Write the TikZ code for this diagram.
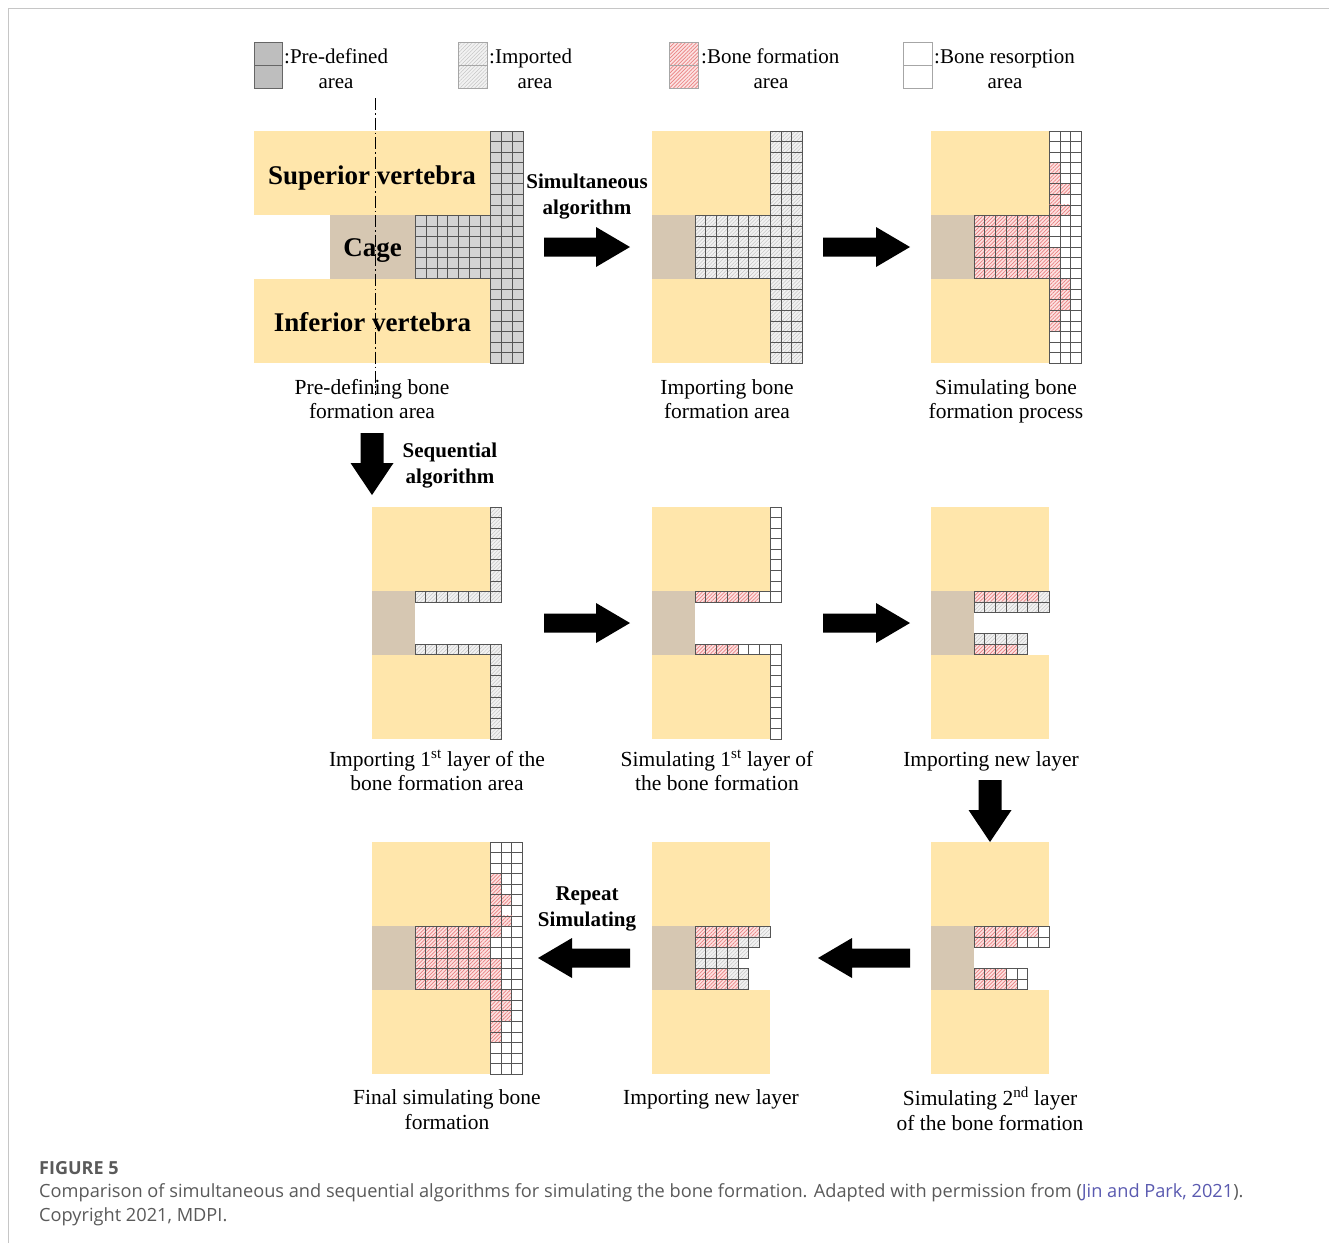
\documentclass[tikz,border=0pt]{standalone}
\usepackage{fontspec}
\setmainfont{Liberation Serif}
\newfontfamily\capfont{Open Sans}
\usetikzlibrary{patterns.meta}
\definecolor{vert}{HTML}{FFE6AB}
\definecolor{cagec}{HTML}{D6C7B2}
\definecolor{pdgray}{HTML}{D4D4D4}
\definecolor{pdleg}{HTML}{BEBEBE}
\definecolor{imbase}{HTML}{F2F2F2}
\definecolor{imhatch}{HTML}{C6C6C6}
\definecolor{bfbase}{HTML}{FCE2E2}
\definecolor{bfhatch}{HTML}{EA8080}
\definecolor{gridc}{HTML}{555555}
\definecolor{capgray}{HTML}{5A5A5A}
\definecolor{linkc}{HTML}{5A5AB0}
\tikzset{
  pdcell/.style={fill=pdgray, draw=gridc, line width=0.7pt},
  imcell/.style={preaction={fill=imbase}, pattern={Lines[angle=45,distance=2.6pt,line width=0.5pt]}, pattern color=imhatch, draw=gridc, line width=0.7pt},
  bfcell/.style={preaction={fill=bfbase}, pattern={Lines[angle=45,distance=2.6pt,line width=0.7pt]}, pattern color=bfhatch, draw=gridc, line width=0.7pt},
  brcell/.style={fill=white, draw=gridc, line width=0.7pt},
  lbl/.style={anchor=base, inner sep=0pt, font=\fontsize{21.5}{25}\selectfont},
  blbl/.style={anchor=base, inner sep=0pt, font=\fontsize{21}{25}\selectfont\bfseries},
  biglbl/.style={anchor=base, inner sep=0pt, font=\fontsize{27}{30}\selectfont\bfseries},
  leglbl/.style={inner sep=0pt, font=\fontsize{21}{25}\selectfont},
  pics/barrow/.style n args={4}{code={
    \fill[black] (0,-#3) -- ({#1-#2},-#3) -- ({#1-#2},-#4) -- (#1,0) -- ({#1-#2},#4) -- ({#1-#2},#3) -- (0,#3) -- cycle;}}
}
\newcommand\Cl[3]{\path[#1] (#2,#3) rectangle +(1,1);}
\newcommand\panelbase{%
  \fill[vert] (0,0) rectangle (11,8);
  \fill[vert] (0,14) rectangle (11,22);
  \fill[cagec] (0,8) rectangle (4,14);}
\newcommand\sidecols[1]{%
  \foreach \r in {0,...,21}{\foreach \c in {11,12,13}{\Cl{#1}{\c}{\r}}}}
\newcommand\cagegrid[1]{%
  \foreach \r in {8,...,13}{\foreach \c in {4,...,10}{\Cl{#1}{\c}{\r}}}}
\newcommand\redside{%
  \foreach \r in {3,4,5,6,7,8,11,12,13,14,15,16,17,18}{\Cl{bfcell}{11}{\r}}
  \foreach \r in {5,7,14,15,16}{\Cl{bfcell}{12}{\r}}}
\begin{document}
\begin{tikzpicture}[x=1pt,y=-1pt]
\useasboundingbox (0,0) rectangle (1329,1243);
\fill[white] (0,0) rectangle (1329,1243);
\draw[gray!45, line width=0.8pt] (8,1243) -- (8,8) -- (1329,8);

% ---------- legend ----------
\path[fill=pdleg, draw=gray!80!black, line width=0.8pt] (254,42) rectangle (282,65) (254,65) rectangle (282,88);
\node[leglbl, anchor=base west] (lg1a) at (284,63) {:Pre-defined};
\node[leglbl, anchor=base] (lg1b) at (336,88) {area};
\path[imcell, draw=gray!70] (458,42) rectangle (487,65) (458,65) rectangle (487,88);
\node[leglbl, anchor=base west] (lg2a) at (489,63) {:Imported};
\node[leglbl, anchor=base] (lg2b) at (535,88) {area};
\path[bfcell, draw=gray!70] (669,42) rectangle (698,65) (669,65) rectangle (698,88);
\node[leglbl, anchor=base west] (lg3a) at (701,63) {:Bone formation};
\node[leglbl, anchor=base] (lg3b) at (771,88) {area};
\path[brcell, draw=gray!70] (903,42) rectangle (932,65) (903,65) rectangle (932,88);
\node[leglbl, anchor=base west] (lg4a) at (934,63) {:Bone resorption};
\node[leglbl, anchor=base] (lg4b) at (1005,88) {area};

% ---------- panel 1: pre-defining ----------
\begin{scope}[xshift=372.5pt, yshift=-131pt, x=10.75pt, y=-10.55pt]
  \fill[vert] (-11,0) rectangle (11,8);
  \fill[vert] (-11,14) rectangle (11,22);
  \fill[cagec] (-4,8) rectangle (4,14);
  \cagegrid{pdcell}
  \sidecols{pdcell}
\end{scope}
\node[biglbl] (sup) at (372,184) {Superior vertebra};
\node[biglbl] (cage) at (372.5,256) {Cage};
\node[biglbl] (inf) at (372.5,331) {Inferior vertebra};
\draw[line width=1pt, dash pattern=on 12pt off 3pt on 1.5pt off 3pt] (375,98) -- (375,395);

% ---------- panel 2: importing ----------
\begin{scope}[xshift=652pt, yshift=-131pt, x=10.75pt, y=-10.55pt]
  \panelbase
  \cagegrid{imcell}
  \sidecols{imcell}
\end{scope}

% ---------- panel 3: simulating ----------
\begin{scope}[xshift=931pt, yshift=-131pt, x=10.75pt, y=-10.55pt]
  \panelbase
  \cagegrid{bfcell}
  \sidecols{brcell}
  \redside
\end{scope}

% ---------- panel 4: importing 1st layer ----------
\begin{scope}[xshift=372pt, yshift=-507pt, x=10.75pt, y=-10.55pt]
  \panelbase
  \foreach \r in {0,...,8,13,14,...,21}{\Cl{imcell}{11}{\r}}
  \foreach \c in {4,...,10}{\Cl{imcell}{\c}{8}\Cl{imcell}{\c}{13}}
\end{scope}

% ---------- panel 5: simulating 1st layer ----------
\begin{scope}[xshift=652pt, yshift=-507pt, x=10.75pt, y=-10.55pt]
  \panelbase
  \foreach \r in {0,...,8,13,14,...,21}{\Cl{brcell}{11}{\r}}
  \foreach \c in {4,...,9}{\Cl{bfcell}{\c}{8}}
  \Cl{brcell}{10}{8}
  \foreach \c in {4,...,7}{\Cl{bfcell}{\c}{13}}
  \foreach \c in {8,9,10}{\Cl{brcell}{\c}{13}}
\end{scope}

% ---------- panel 6: importing new layer ----------
\begin{scope}[xshift=931pt, yshift=-507pt, x=10.75pt, y=-10.55pt]
  \panelbase
  \foreach \c in {4,...,9}{\Cl{bfcell}{\c}{8}}
  \Cl{imcell}{10}{8}
  \foreach \c in {4,...,10}{\Cl{imcell}{\c}{9}}
  \foreach \c in {4,...,8}{\Cl{imcell}{\c}{12}}
  \foreach \c in {4,...,7}{\Cl{bfcell}{\c}{13}}
  \Cl{imcell}{8}{13}
\end{scope}

% ---------- panel 7: final ----------
\begin{scope}[xshift=372pt, yshift=-842pt, x=10.75pt, y=-10.55pt]
  \panelbase
  \cagegrid{bfcell}
  \sidecols{brcell}
  \redside
\end{scope}

% ---------- panel 8: importing new layer ----------
\begin{scope}[xshift=652pt, yshift=-842pt, x=10.75pt, y=-10.55pt]
  \panelbase
  \foreach \c in {4,...,9}{\Cl{bfcell}{\c}{8}}
  \Cl{imcell}{10}{8}
  \foreach \c in {4,...,7}{\Cl{bfcell}{\c}{9}}
  \foreach \c in {8,9}{\Cl{imcell}{\c}{9}}
  \foreach \c in {4,...,8}{\Cl{imcell}{\c}{10}}
  \foreach \c in {4,...,7}{\Cl{imcell}{\c}{11}}
  \foreach \c in {4,5,6}{\Cl{bfcell}{\c}{12}}
  \foreach \c in {7,8}{\Cl{imcell}{\c}{12}}
  \foreach \c in {4,...,7}{\Cl{bfcell}{\c}{13}}
  \Cl{imcell}{8}{13}
\end{scope}

% ---------- panel 9: simulating 2nd layer ----------
\begin{scope}[xshift=931pt, yshift=-842pt, x=10.75pt, y=-10.55pt]
  \panelbase
  \foreach \c in {4,...,9}{\Cl{bfcell}{\c}{8}}
  \Cl{brcell}{10}{8}
  \foreach \c in {4,...,7}{\Cl{bfcell}{\c}{9}}
  \foreach \c in {8,9,10}{\Cl{brcell}{\c}{9}}
  \foreach \c in {4,5,6}{\Cl{bfcell}{\c}{12}}
  \foreach \c in {7,8}{\Cl{brcell}{\c}{12}}
  \foreach \c in {4,...,7}{\Cl{bfcell}{\c}{13}}
  \Cl{brcell}{8}{13}
\end{scope}

% ---------- arrows ----------
\pic at (544,247) {barrow={86}{34}{9.5}{20}};
\pic at (823,247) {barrow={87}{34}{9.5}{20}};
\pic at (544,623) {barrow={86}{34}{9.5}{20}};
\pic at (823,623) {barrow={87}{34}{9.5}{20}};
\pic[rotate=-90] at (372,433) {barrow={62}{32}{11.5}{21.5}};
\pic[rotate=-90] at (990,780) {barrow={62}{32}{11.5}{21.5}};
\pic[rotate=180] at (910,958) {barrow={92}{34}{9.5}{20}};
\pic[rotate=180] at (630,958) {barrow={92}{34}{9.5}{20}};

% ---------- arrow labels ----------
\node[blbl] (sim1) at (587,188) {Simultaneous};
\node[blbl] (sim2) at (587,214) {algorithm};
\node[blbl] (seq1) at (450,457) {Sequential};
\node[blbl] (seq2) at (450,483) {algorithm};
\node[blbl] (rep1) at (587,900) {Repeat};
\node[blbl] (rep2) at (587,926) {Simulating};

% ---------- panel labels ----------
\node[lbl] (t1a) at (372,394) {Pre-defining bone};
\node[lbl] (t1b) at (372,418) {formation area};
\node[lbl] (t2a) at (727,394) {Importing bone};
\node[lbl] (t2b) at (727,418) {formation area};
\node[lbl] (t3a) at (1006,394) {Simulating bone};
\node[lbl] (t3b) at (1006,418) {formation process};
\node[lbl] (m1a) at (437,766) {Importing 1\textsuperscript{st} layer of the};
\node[lbl] (m1b) at (437,790) {bone formation area};
\node[lbl] (m2a) at (717,766) {Simulating 1\textsuperscript{st} layer of};
\node[lbl] (m2b) at (717,790) {the bone formation};
\node[lbl] (m3a) at (991,766) {Importing new layer};
\node[lbl] (b1a) at (447,1104) {Final simulating bone};
\node[lbl] (b1b) at (447,1129) {formation};
\node[lbl] (b2a) at (711,1104) {Importing new layer};
\node[lbl] (b3a) at (990,1105) {Simulating 2\textsuperscript{nd} layer};
\node[lbl] (b3b) at (990,1130) {of the bone formation};

% ---------- caption ----------
\node[anchor=base west, inner sep=0pt, text=capgray, font=\capfont\fontsize{18}{20}\selectfont\bfseries] (figno) at (39,1174) {FIGURE 5};
\node[anchor=base west, inner sep=0pt, text=capgray, font=\capfont\fontsize{18.2}{20}\selectfont] (cap1) at (39,1197) {Comparison of simultaneous and sequential algorithms for simulating the bone formation. Adapted with permission from (\textcolor{linkc}{Jin and Park, 2021}).};
\node[anchor=base west, inner sep=0pt, text=capgray, font=\capfont\fontsize{18.2}{20}\selectfont] (cap2) at (39,1221) {Copyright 2021, MDPI.};
\end{tikzpicture}
\end{document}
